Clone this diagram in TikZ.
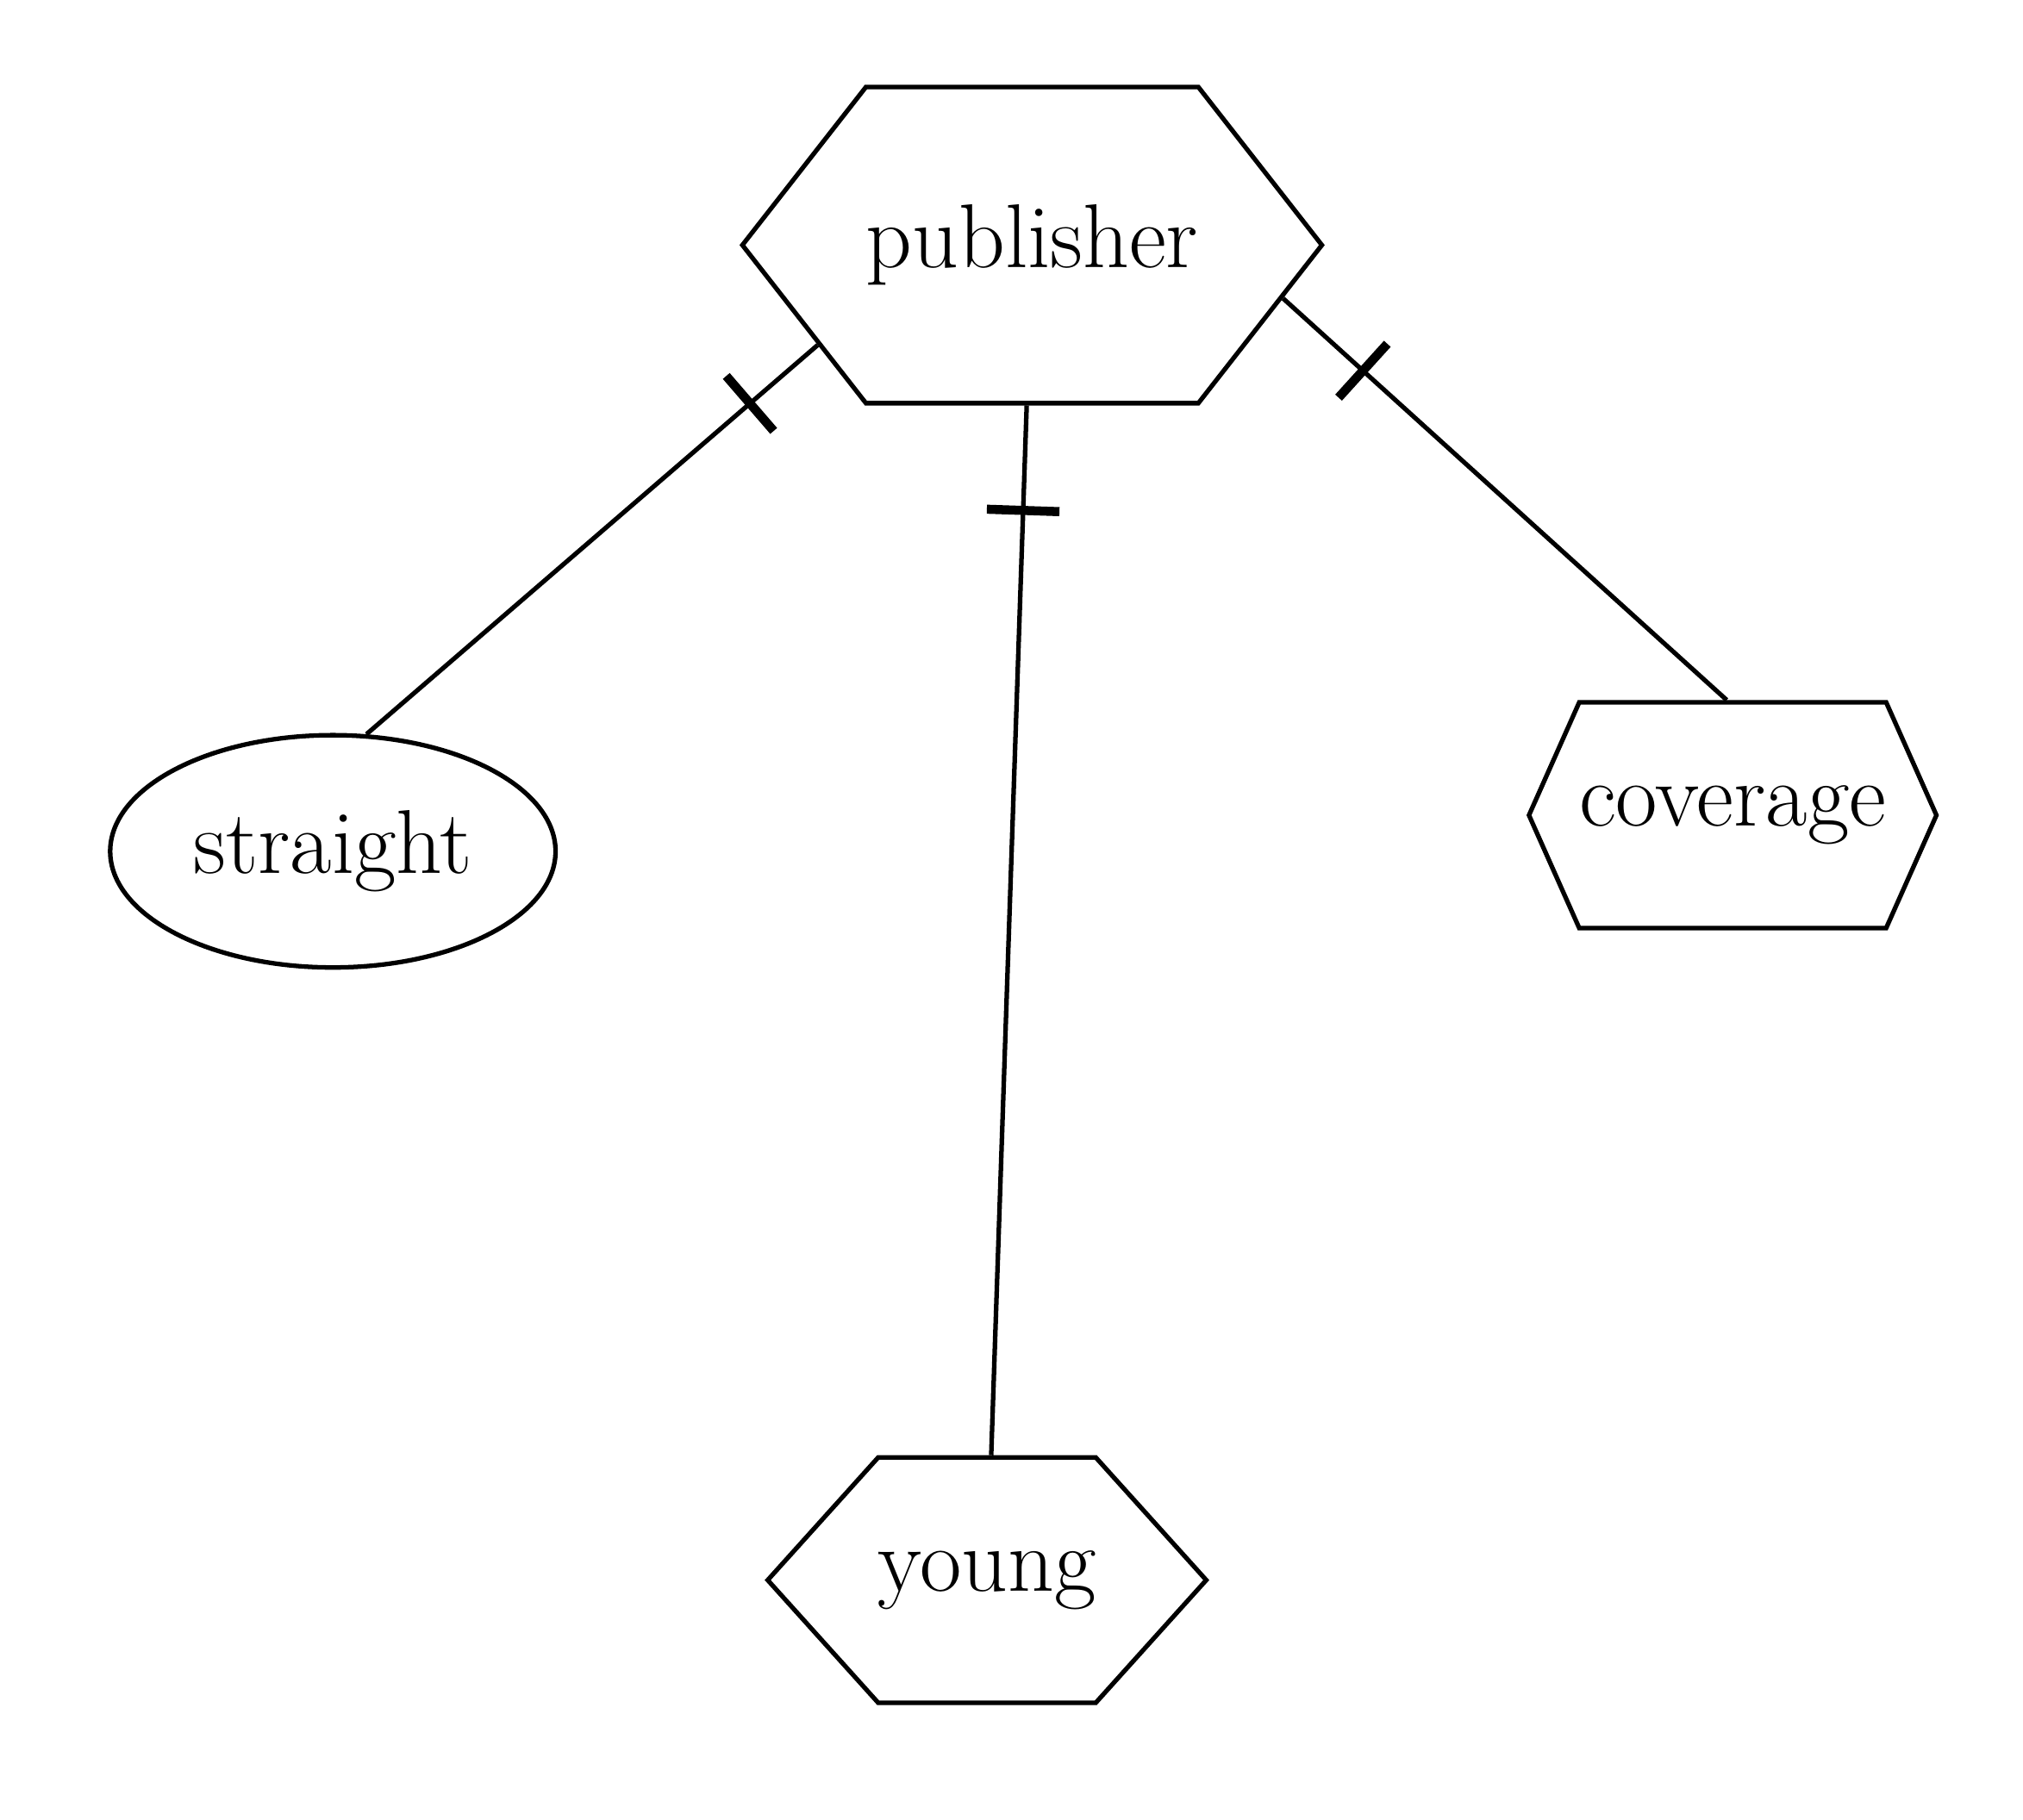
\documentclass[tikz,border=0pt]{standalone}
\usepackage{tikz}
\usetikzlibrary{shapes.geometric,shapes.symbols}

\tikzset{
  hexa/.style={draw, signal, signal to=west and east, inner sep=0pt,
    font=\fontsize{20}{24}\selectfont},
  blob/.style={draw, ellipse, inner sep=0pt, font=\fontsize{20}{24}\selectfont},
  tick/.style={draw, sloped, line width=2pt, minimum height=16pt,
    minimum width=0pt, inner sep=0pt}
}

\begin{document}
\begin{tikzpicture}[x=0.01cm, y=-0.01cm, line width=1pt]
\useasboundingbox (0,0) rectangle (1568,1411);
\node[hexa, minimum height=2.45cm, signal pointer angle=104] (publisher) at (800,190) {publisher};
\node[blob, minimum width=3.45cm, minimum height=1.8cm] (straight) at (258,660) {straight};
\node[hexa, minimum height=1.9cm, signal pointer angle=96] (young) at (765,1225) {young};
\node[hexa, minimum height=1.75cm, signal pointer angle=132] (coverage) at (1343,632) {coverage};

\path
(publisher.-155) edge node[tick, pos=.15]{} (straight.74)
(publisher) edge node[tick, pos=.1]{} (young)
(publisher.-12) edge node[tick, pos=.18]{} (coverage.93);
\end{tikzpicture}
\end{document}
